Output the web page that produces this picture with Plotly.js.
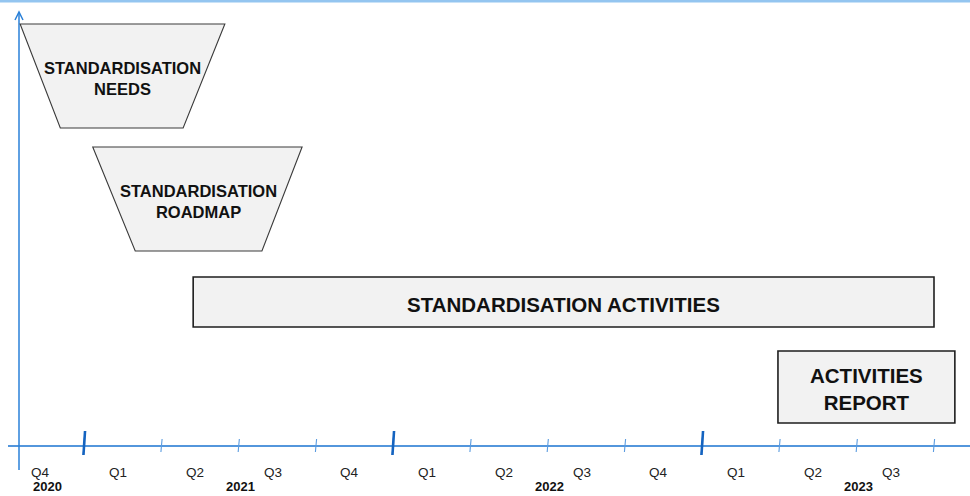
<!DOCTYPE html>
<html>
<head>
<meta charset="utf-8">
<script src="https://cdn.plot.ly/plotly-3.0.1.min.js"></script>
<style>
  html, body { margin: 0; padding: 0; background: #ffffff; }
  #chart { width: 970px; height: 496px; }
</style>
</head>
<body>
<div id="chart"></div>
<script>
// ---- Data (x in quarters from start of Q4 2020, y in height levels above the time axis) ----
const quarterLabels = ['Q4', 'Q1', 'Q2', 'Q3', 'Q4', 'Q1', 'Q2', 'Q3', 'Q4', 'Q1', 'Q2', 'Q3'];
const yearLabels = ['2020', '2021', '2022', '2023'];
const yearStartQuarter = [0, 1, 5, 9];
const yearQuarterCount = [1, 4, 4, 4];

const phaseNames = ['STANDARDISATION<br>NEEDS', 'STANDARDISATION<br>ROADMAP', 'STANDARDISATION ACTIVITIES', 'ACTIVITIES<br>REPORT'];
const phaseKind = ['trapezoid', 'trapezoid', 'box', 'box'];
const phaseTopStart = [0.17, 1.11, 2.41, 9.98];
const phaseTopEnd = [2.82, 3.82, 12.0, 12.27];
const phaseBottomStart = [0.69, 1.66, 2.41, 9.98];
const phaseBottomEnd = [2.28, 3.30, 12.0, 12.27];
const phaseTop = [422, 299, 169, 95];
const phaseBottom = [318, 195, 119, 23];

// ---- Layout helpers ----
const W = 970, H = 496;
const pxPerQ = 77.25, originPx = 7;          // quarter 0 sits at pixel 7
const axisPx = 446;                            // time axis pixel row
const xr = [(0 - originPx) / pxPerQ, (W - originPx) / pxPerQ];
const yr = [axisPx - H, axisPx];
const px = p => p / pxPerQ;                    // pixel length -> quarter length

const blue = '#1a73d0';
const shapes = [];
const annotations = [];

// top light-blue band
shapes.push({type: 'rect', xref: 'paper', yref: 'paper', x0: 0, x1: 1, y0: 1 - 2.5 / H, y1: 1.01,
  fillcolor: '#94c5f0', line: {width: 0}, layer: 'below'});

// horizontal time axis
shapes.push({type: 'line', xref: 'paper', yref: 'y', x0: 8 / W, x1: 1, y0: 0, y1: 0,
  line: {color: blue, width: 1.6}});

// vertical axis with arrow
const vx = xr[0] + px(19);
shapes.push({type: 'line', x0: vx, x1: vx, y0: -24, y1: 433, line: {color: '#2a80d8', width: 1.5}});
shapes.push({type: 'path', path: `M ${vx - px(4)},${426} L ${vx},${434} L ${vx + px(4)},${426}`,
  line: {color: '#2a80d8', width: 1.5}});

// ticks at quarter boundaries
const majorQ = yearStartQuarter.filter(q => q > 0);
for (let q = 1; q <= quarterLabels.length; q++) {
  if (majorQ.includes(q)) {
    shapes.push({type: 'line', x0: q - px(0.8), x1: q + px(0.8), y0: -9, y1: 15,
      line: {color: '#1463c0', width: 2.6}});
  } else {
    shapes.push({type: 'line', x0: q - px(0.6), x1: q + px(0.6), y0: -6, y1: 7,
      line: {color: '#5a9be0', width: 1.1}});
  }
}

// quarter labels
quarterLabels.forEach((lab, i) => {
  annotations.push({x: i + 0.44, y: -26, text: lab, showarrow: false,
    font: {family: 'Arial, Liberation Sans, sans-serif', size: 13.5, color: '#222'},
    xanchor: 'center', yanchor: 'middle'});
});
// year labels
yearLabels.forEach((lab, i) => {
  annotations.push({x: yearStartQuarter[i] + yearQuarterCount[i] / 2 + 0.02, y: -40, text: '<b>' + lab + '</b>',
    showarrow: false, font: {family: 'Arial, Liberation Sans, sans-serif', size: 13, color: '#111'},
    xanchor: 'center', yanchor: 'middle'});
});

// phases
phaseNames.forEach((name, i) => {
  const t = phaseTop[i], b = phaseBottom[i];
  if (phaseKind[i] === 'trapezoid') {
    shapes.push({type: 'path',
      path: `M ${phaseTopStart[i]},${t} L ${phaseTopEnd[i]},${t} L ${phaseBottomEnd[i]},${b} L ${phaseBottomStart[i]},${b} Z`,
      fillcolor: '#f2f2f2', line: {color: '#3a3a3a', width: 1.1}});
  } else {
    shapes.push({type: 'rect', x0: phaseTopStart[i], x1: phaseTopEnd[i], y0: b, y1: t,
      fillcolor: '#f2f2f2', line: {color: '#1e1e1e', width: 1.6}});
  }
  const cx = (phaseTopStart[i] + phaseTopEnd[i] + phaseBottomStart[i] + phaseBottomEnd[i]) / 4;
  const cy = (t + b) / 2 - 2;
  annotations.push({x: cx, y: cy, text: '<b>' + name + '</b>', showarrow: false,
    font: {family: 'Arial, Liberation Sans, sans-serif', size: phaseKind[i] === 'trapezoid' ? 16.5 : 20.5, color: '#111'},
    xanchor: 'center', yanchor: 'middle', align: 'center'});
});

const layout = {
  width: W, height: H,
  margin: {l: 0, r: 0, t: 0, b: 0},
  paper_bgcolor: '#ffffff', plot_bgcolor: '#ffffff',
  showlegend: false,
  xaxis: {range: xr, visible: false, fixedrange: true},
  yaxis: {range: yr, visible: false, fixedrange: true},
  shapes: shapes,
  annotations: annotations
};

Plotly.newPlot('chart', [{x: [], y: [], type: 'scatter', mode: 'markers', hoverinfo: 'skip'}], layout,
  {staticPlot: true, displayModeBar: false});
</script>
</body>
</html>
